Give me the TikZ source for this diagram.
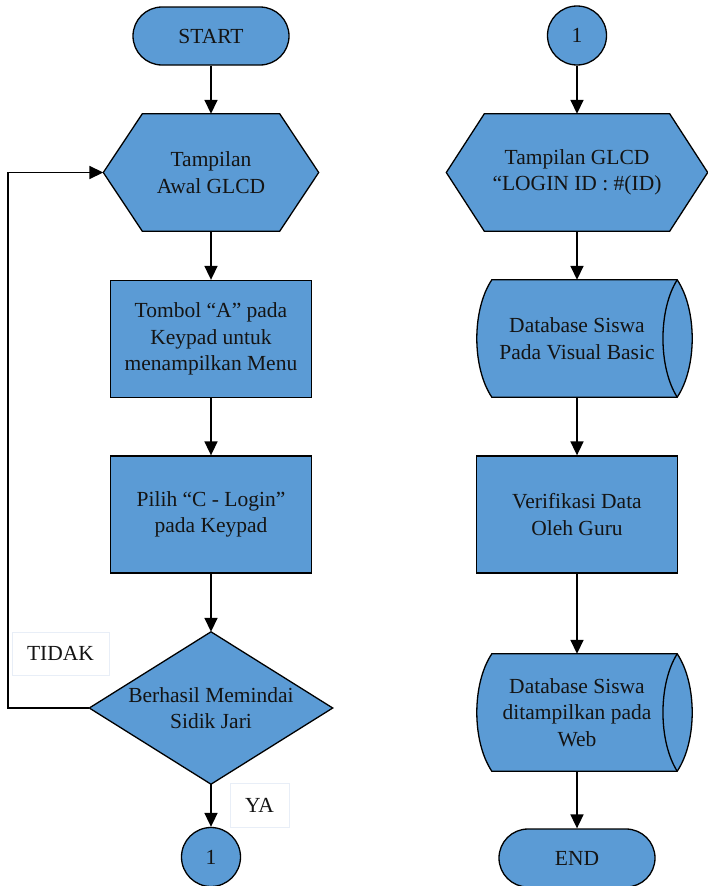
\documentclass[tikz,border=0pt]{standalone}
\usepackage{fontspec}
\setmainfont{Liberation Serif}
\usetikzlibrary{arrows.meta,backgrounds,calc}
\definecolor{boxblue}{HTML}{5B9BD5}
\definecolor{labeledge}{RGB}{232,238,247}
\begin{document}
\begin{tikzpicture}[x=1pt,y=-1pt,
  every node/.style={font=\fontsize{21.5}{26.5}\selectfont, text=black!92, align=center, inner sep=0pt},
  shapeline/.style={draw=black, line width=1.3pt, fill=boxblue},
  terminal/.style={shapeline, rounded corners=29pt, minimum width=156pt, minimum height=58pt},
  proc/.style={shapeline, minimum width=201pt, minimum height=117pt},
  connector/.style={shapeline, circle, minimum size=59pt},
  frame/.style 2 args={minimum width=#1, minimum height=#2},
  tag/.style={draw=labeledge, line width=1pt, fill=white},
  arr/.style={draw=black, line width=1.7pt, -{Triangle[length=14pt,width=13pt]}}]
\useasboundingbox (0,0) rectangle (707,886);

% left column
\node[terminal] (start) at (211,36) {START};
\node[frame={215pt}{117pt}] (hx1) at (211,172.5) {Tampilan\\Awal GLCD};
\node[proc] (r1) at (211,339) {Tombol “A” pada\\Keypad untuk\\menampilkan Menu};
\node[proc] (r2) at (211,514.5) {Pilih “C - Login”\\pada Keypad};
\node[frame={243pt}{152pt}] (dm) at (211,708) {Berhasil Memindai\\Sidik Jari};
\node[connector] (c1) at (211,857) {1};

% right column
\node[connector] (c2) at (577,35.5) {1};
\node[frame={261pt}{117pt}] (hx2) at (577,172.5) {Tampilan GLCD\\“LOGIN ID : \#(ID)};
\node[frame={200pt}{117pt}] (db1) at (577,338.5) {Database Siswa\\Pada Visual Basic};
\node[proc] (vf) at (577,514.5) {Verifikasi Data\\Oleh Guru};
\node[frame={200pt}{117pt}] (db2) at (577,712.5) {Database Siswa\\ditampilkan pada\\Web};
\node[terminal] (end) at (577,858) {END};

% branch labels
\node[tag, minimum width=97pt, minimum height=43pt] (tidak) at (60.5,653.5) {TIDAK};
\node[tag, minimum width=59pt, minimum height=44pt] (ya) at (259.5,805) {YA};

% outlines of the non-rectangular symbols
\begin{scope}[on background layer]
  \foreach \h/\c in {hx1/39, hx2/38} {
    \path[shapeline] ($(\h.north west)+(\c,0)$) -- ($(\h.north east)+(-\c,0)$) -- (\h.east)
      -- ($(\h.south east)+(-\c,0)$) -- ($(\h.south west)+(\c,0)$) -- (\h.west) -- cycle;
  }
  \path[shapeline] (dm.north) -- (dm.east) -- (dm.south) -- (dm.west) -- cycle;
  % direct-access storage: convex left end, drum ends on the right
  \foreach \d in {db1, db2} {
    \path[shapeline] ($(\d.north west)+(15,0)$) -- (\d.north east)
      .. controls +(20,30) and +(20,-30) .. (\d.south east) -- ($(\d.south west)+(15,0)$)
      .. controls +(-20,-30) and +(-20,30) .. ($(\d.north west)+(15,0)$) -- cycle;
    \draw[line width=1.3pt] (\d.north east)
      .. controls +(-19,30) and +(-19,-30) .. (\d.south east);
  }
\end{scope}

% flow lines
\draw[arr] (start) -- (hx1);
\draw[arr] (hx1) -- (r1);
\draw[arr] (r1) -- (r2);
\draw[arr] (r2) -- (dm);
\draw[arr] (dm) -- (c1);
\coordinate (loop) at (8,0);
\draw[arr] (dm.west) -- (dm.west -| loop) |- (hx1.west);

\draw[arr] (c2) -- (hx2);
\draw[arr] (hx2) -- (db1);
\draw[arr] (db1) -- (vf);
\draw[arr] (vf) -- (db2);
\draw[arr] (db2) -- (end);
\end{tikzpicture}
\end{document}
